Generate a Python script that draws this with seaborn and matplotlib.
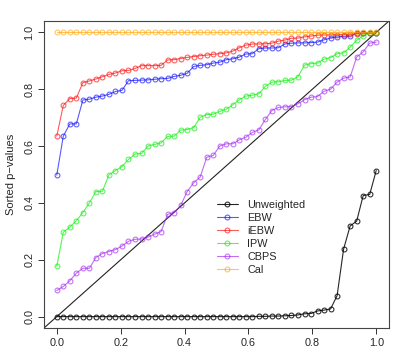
import numpy as np
import pandas as pd
import matplotlib
matplotlib.use("Agg")
import matplotlib.pyplot as plt
import seaborn as sns
from matplotlib.lines import Line2D

methods = ["Unweighted", "EBW", "iEBW", "IPW", "CBPS", "Cal"]
colors = ["#000000", "#0000FF", "#FF0000", "#00EE00", "#A020F0", "#FFA500"]

unweighted = [0.0, 0.0, 0.0, 0.0, 0.0, 0.0, 0.0, 0.0, 0.0, 0.0,
              0.0, 0.0, 0.0, 0.0, 0.0, 0.0, 0.0, 0.0, 0.0, 0.0,
              0.0, 0.0, 0.0, 0.0, 0.0, 0.0, 0.0, 0.0, 0.0, 0.0,
              0.0, 0.001, 0.001, 0.002, 0.002, 0.003, 0.004, 0.006, 0.010, 0.011,
              0.020, 0.023, 0.027, 0.074, 0.238, 0.319, 0.336, 0.426, 0.430, 0.514]
ebw = [0.498, 0.635, 0.678, 0.678, 0.762, 0.765, 0.772, 0.776, 0.782, 0.792,
       0.796, 0.830, 0.831, 0.832, 0.833, 0.835, 0.837, 0.838, 0.845, 0.849,
       0.856, 0.880, 0.884, 0.886, 0.892, 0.895, 0.904, 0.907, 0.913, 0.924,
       0.925, 0.943, 0.945, 0.945, 0.946, 0.959, 0.962, 0.963, 0.963, 0.964,
       0.966, 0.974, 0.980, 0.984, 0.986, 0.987, 0.998, 0.998, 0.998, 0.999]
iebw = [0.635, 0.743, 0.767, 0.769, 0.823, 0.829, 0.836, 0.844, 0.852, 0.857,
        0.865, 0.866, 0.873, 0.883, 0.883, 0.883, 0.884, 0.903, 0.904, 0.908,
        0.912, 0.915, 0.918, 0.920, 0.923, 0.925, 0.928, 0.934, 0.946, 0.955,
        0.959, 0.959, 0.960, 0.962, 0.969, 0.973, 0.979, 0.980, 0.984, 0.987,
        0.990, 0.991, 0.991, 0.992, 0.992, 0.993, 0.995, 0.998, 0.998, 0.999]
ipw = [0.177, 0.297, 0.315, 0.337, 0.366, 0.400, 0.440, 0.441, 0.499, 0.514,
       0.528, 0.553, 0.572, 0.574, 0.600, 0.606, 0.611, 0.634, 0.635, 0.656,
       0.658, 0.665, 0.701, 0.711, 0.712, 0.722, 0.730, 0.745, 0.763, 0.776,
       0.779, 0.784, 0.810, 0.825, 0.826, 0.831, 0.832, 0.844, 0.885, 0.890,
       0.892, 0.906, 0.911, 0.925, 0.928, 0.948, 0.972, 0.988, 0.997, 0.998]
cbps = [0.092, 0.106, 0.126, 0.153, 0.170, 0.170, 0.208, 0.222, 0.229, 0.236,
        0.248, 0.265, 0.272, 0.273, 0.280, 0.290, 0.299, 0.360, 0.366, 0.391,
        0.440, 0.471, 0.491, 0.561, 0.567, 0.600, 0.608, 0.608, 0.622, 0.631,
        0.648, 0.657, 0.694, 0.725, 0.736, 0.738, 0.739, 0.749, 0.763, 0.772,
        0.774, 0.793, 0.800, 0.825, 0.839, 0.843, 0.913, 0.931, 0.962, 0.966]
cal = [1.0, 1.0, 1.0, 1.0, 1.0, 1.0, 1.0, 1.0, 1.0, 1.0,
       1.0, 1.0, 1.0, 1.0, 1.0, 1.0, 1.0, 1.0, 1.0, 1.0,
       1.0, 1.0, 1.0, 1.0, 1.0, 1.0, 1.0, 1.0, 1.0, 1.0,
       1.0, 1.0, 1.0, 1.0, 1.0, 1.0, 1.0, 1.0, 1.0, 1.0,
       1.0, 1.0, 1.0, 1.0, 1.0, 1.0, 1.0, 1.0, 1.0, 1.0]

series = [unweighted, ebw, iebw, ipw, cbps, cal]
n = len(unweighted)
quantile_pos = np.arange(n) / (n - 1)

x_ticks = [0.0, 0.2, 0.4, 0.6, 0.8, 1.0]
y_ticks = [0.0, 0.2, 0.4, 0.6, 0.8, 1.0]
tick_labels = ["0.0", "0.2", "0.4", "0.6", "0.8", "1.0"]

sns.set_style("white")
plt.rcParams["font.family"] = ["Liberation Sans", "DejaVu Sans"]

fig = plt.figure(figsize=(4.11, 3.60), dpi=100)
ax = fig.add_axes([44 / 411, 1 - 328 / 360, (389 - 44) / 411, (328 - 21) / 360])

ax.plot([-0.1, 1.1], [-0.1, 1.1], color="#222222", lw=0.8, zorder=1)

ms = 3.5
handles = []
for name, vals, col in zip(methods, series, colors):
    a = 0.85 if name == "Unweighted" else 0.65
    df = pd.DataFrame({"q": quantile_pos, "p": vals})
    sns.lineplot(data=df, x="q", y="p", ax=ax, color=col, alpha=a, lw=0.8,
                 marker="o", markersize=ms, markerfacecolor="none",
                 markeredgecolor=col, markeredgewidth=0.75,
                 sort=False, errorbar=None, zorder=2)
    handles.append(Line2D([0], [0], color=col, alpha=a, lw=0.8, marker="o",
                          markersize=ms, markerfacecolor="none",
                          markeredgecolor=col, markeredgewidth=0.75))

ax.set_xlim(-0.04, 1.04)
ax.set_ylim(-0.04, 1.04)
ax.set_xticks(x_ticks)
ax.set_xticklabels(tick_labels, fontsize=7.8)
ax.set_yticks(y_ticks)
ax.set_yticklabels(tick_labels, fontsize=7.8, rotation=90, va="center")
ax.tick_params(axis="both", direction="out", length=4, width=0.7,
               color="#333333", pad=3, bottom=True, left=True)
ax.set_xlabel("")
ax.set_ylabel("Sorted p\u2212values", fontsize=8, labelpad=6)
for sp in ax.spines.values():
    sp.set_color("#444444")
    sp.set_linewidth(0.8)
    sp.set_visible(True)

leg = ax.legend(handles, methods, loc="upper left",
                bbox_to_anchor=(217 / 411, 1 - 200 / 360),
                bbox_transform=fig.transFigure, frameon=False,
                fontsize=7.8, handlelength=1.9, handletextpad=0.9,
                labelspacing=0.28, borderpad=0, borderaxespad=0)

fig.savefig("out.png", dpi=100)
